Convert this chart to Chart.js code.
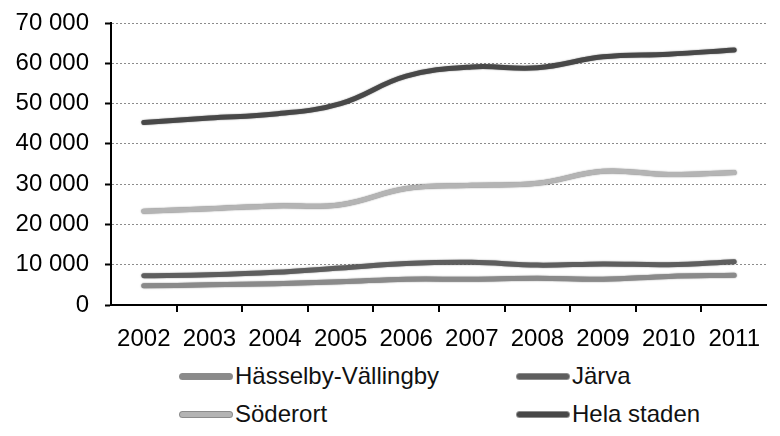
<!DOCTYPE html>
<html>
<head>
<meta charset="utf-8">
<script src="https://cdn.jsdelivr.net/npm/chart.js@4.4.1/dist/chart.umd.min.js"></script>
<style>
  html, body { margin: 0; padding: 0; background: #fff; }
  #wrap { position: relative; width: 780px; height: 436px; overflow: hidden; font-family: "Liberation Sans", Arial, sans-serif; }
  #box { position: absolute; left: 0; top: 0; width: 780px; height: 355px; }
  .item { position: absolute; height: 30px; display: flex; align-items: center; font-size: 24px; color: #111; white-space: nowrap; }
  .item i { display: inline-block; width: 52px; height: 5px; border-radius: 3px; margin-right: 3px; box-shadow: 0 0 0 1px rgba(0,0,0,0.45); }
</style>
</head>
<body>
<div id="wrap">
  <div id="box"><canvas id="chart"></canvas></div>
  <div id="legend"></div>
</div>
<script>
// data
const years = ['2002', '2003', '2004', '2005', '2006', '2007', '2008', '2009', '2010', '2011'];
const hasselby = [4750, 5000, 5300, 5750, 6400, 6400, 6650, 6400, 7100, 7400];
const jarva = [7250, 7500, 8100, 9200, 10300, 10600, 9900, 10200, 10000, 10750];
const soderort = [23250, 23900, 24600, 24900, 28900, 29700, 30200, 33200, 32400, 32900];
const helaStaden = [45300, 46400, 47400, 50000, 56800, 59100, 58900, 61600, 62250, 63300];
const yTicks = [0, 10000, 20000, 30000, 40000, 50000, 60000, 70000];

const series = [
  { label: 'Hässelby-Vällingby', data: hasselby, color: '#8a8a8a' },
  { label: 'Järva', data: jarva, color: '#5e5e5e' },
  { label: 'Söderort', data: soderort, color: '#b4b4b4' },
  { label: 'Hela staden', data: helaStaden, color: '#484848' }
];

// tusental med mellanslag: 70 000
function fmt(v) {
  return String(v).replace(/\B(?=(\d{3})+(?!\d))/g, ' ');
}

// ger linjerna en mörk kant som i originalet
const outline = {
  id: 'outline',
  beforeDatasetDraw(chart) {
    const ctx = chart.ctx;
    ctx.save();
    ctx.shadowColor = 'rgba(0,0,0,0.55)';
    ctx.shadowBlur = 1.5;
  },
  afterDatasetDraw(chart) {
    chart.ctx.restore();
  }
};

// korta streck under x-axeln, mellan åren
const xMarks = {
  id: 'xMarks',
  afterDatasetsDraw(chart) {
    const sx = chart.scales.x;
    const ctx = chart.ctx;
    const y0 = chart.chartArea.bottom;
    ctx.save();
    ctx.strokeStyle = '#000';
    ctx.lineWidth = 2;
    ctx.beginPath();
    for (let i = 1; i < years.length; i++) {
      const px = Math.round((sx.getPixelForTick(i - 1) + sx.getPixelForTick(i)) / 2);
      ctx.moveTo(px, y0);
      ctx.lineTo(px, y0 + 7);
    }
    ctx.stroke();
    ctx.restore();
  }
};

const font = { family: '"Liberation Sans", Arial, sans-serif', size: 24 };

new Chart(document.getElementById('chart'), {
  type: 'line',
  data: {
    labels: years,
    datasets: series.map(s => ({
      label: s.label,
      data: s.data,
      borderColor: s.color,
      backgroundColor: s.color,
      borderWidth: 5,
      pointRadius: 0,
      tension: 0.4,
      borderCapStyle: 'round'
    }))
  },
  options: {
    responsive: true,
    maintainAspectRatio: false,
    animation: false,
    layout: { padding: { top: 23, right: 0, left: 0, bottom: 0 } },
    plugins: {
      legend: { display: false },
      tooltip: { enabled: false }
    },
    scales: {
      x: {
        offset: true,
        grid: { display: true, drawOnChartArea: false, drawTicks: false },
        border: { display: true, color: '#000', width: 2 },
        ticks: { color: '#000', font: font, padding: 20, maxRotation: 0, autoSkip: false },
        afterFit(scale) { scale.height = 50; }
      },
      y: {
        min: 0,
        max: 70000,
        afterBuildTicks(scale) { scale.ticks = yTicks.map(v => ({ value: v })); },
        grid: {
          color: '#8c8c8c',
          lineWidth: 1,
          tickLength: 6,
          tickColor: '#000',
          tickWidth: 2,
          tickBorderDash: []
        },
        border: { color: '#000', width: 2, dash: [2, 2] },
        ticks: { color: '#000', font: font, padding: 16, callback: v => fmt(v) },
        afterFit(scale) {
          scale.width = 111;
          scale.paddingTop = 0;
          scale.paddingBottom = 0;
        }
      }
    }
  },
  plugins: [outline, xMarks]
});

// legend i två kolumner
const legendPos = [[180, 361], [517, 361], [180, 399], [517, 399]];
const legendEl = document.getElementById('legend');
series.forEach((s, i) => {
  const d = document.createElement('div');
  d.className = 'item';
  d.style.left = legendPos[i][0] + 'px';
  d.style.top = legendPos[i][1] + 'px';
  d.innerHTML = '<i style="background:' + s.color + '"></i>' + s.label;
  legendEl.appendChild(d);
});
</script>
</body>
</html>
